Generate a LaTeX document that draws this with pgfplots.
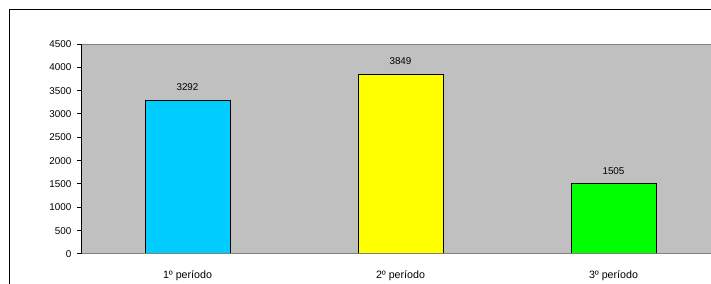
\documentclass[border=0pt]{standalone}
\usepackage{fontspec}
\setmainfont{Liberation Sans}
\usepackage{pgfplots}
\pgfplotsset{compat=1.18}
\definecolor{plotgray}{HTML}{C0C0C0}
\definecolor{linegray}{HTML}{808080}
\definecolor{barcyan}{HTML}{00CCFF}
\definecolor{baryellow}{HTML}{FFFF00}
\definecolor{bargreen}{HTML}{00FF00}
\begin{document}
\begin{tikzpicture}
\useasboundingbox (0,0) rectangle (533.25pt,-213pt);
\begin{axis}[
  at={(60.75pt,-190.5pt)}, anchor=south west,
  scale only axis, width=479.25pt, height=157.5pt,
  xmin=-0.5, xmax=2.5, ymin=0, ymax=4500,
  axis background/.style={fill=plotgray},
  axis line style={draw=none},
  ytick={0,500,...,4500},
  xtick={0,1,2},
  xticklabels={1º período,2º período,3º período},
  tick pos=left, tick align=outside,
  major tick length=3pt,
  x tick style={draw=none},
  y tick style={black, line width=0.75pt},
  /pgf/number format/1000 sep={},
  /pgf/number format/assume math mode=true,
  tick label style={inner sep=0pt},
  yticklabel style={font=\fontsize{7.4}{9}\selectfont, anchor=east, xshift=-4pt},
  xticklabel style={font=\fontsize{8}{9.6}\selectfont, anchor=base, yshift=-15.5pt},
  ybar, bar width=63.75pt,
  nodes near coords,
  nodes near coords style={font=\fontsize{7.4}{9}\selectfont, anchor=south, inner sep=0pt, yshift=6.6pt},
  clip=false,
]
\addplot[bar shift=0pt, fill=barcyan, draw=black, line width=0.75pt] coordinates {(0,3292)};
\addplot[bar shift=0pt, fill=baryellow, draw=black, line width=0.75pt] coordinates {(1,3849)};
\addplot[bar shift=0pt, fill=bargreen, draw=black, line width=0.75pt] coordinates {(2,1505)};
\draw[linegray, line width=0.75pt] (rel axis cs:0,1) -- (rel axis cs:1,1);
\draw[linegray, line width=0.75pt] (rel axis cs:0,0) -- (rel axis cs:1,0);
\draw[black, line width=0.75pt] (rel axis cs:0,0) -- (rel axis cs:0,1);
\end{axis}
\draw[black, line width=0.75pt] (6.75pt,-213pt) -- (6.75pt,-7.5pt) -- (533.25pt,-7.5pt);
\end{tikzpicture}
\end{document}
